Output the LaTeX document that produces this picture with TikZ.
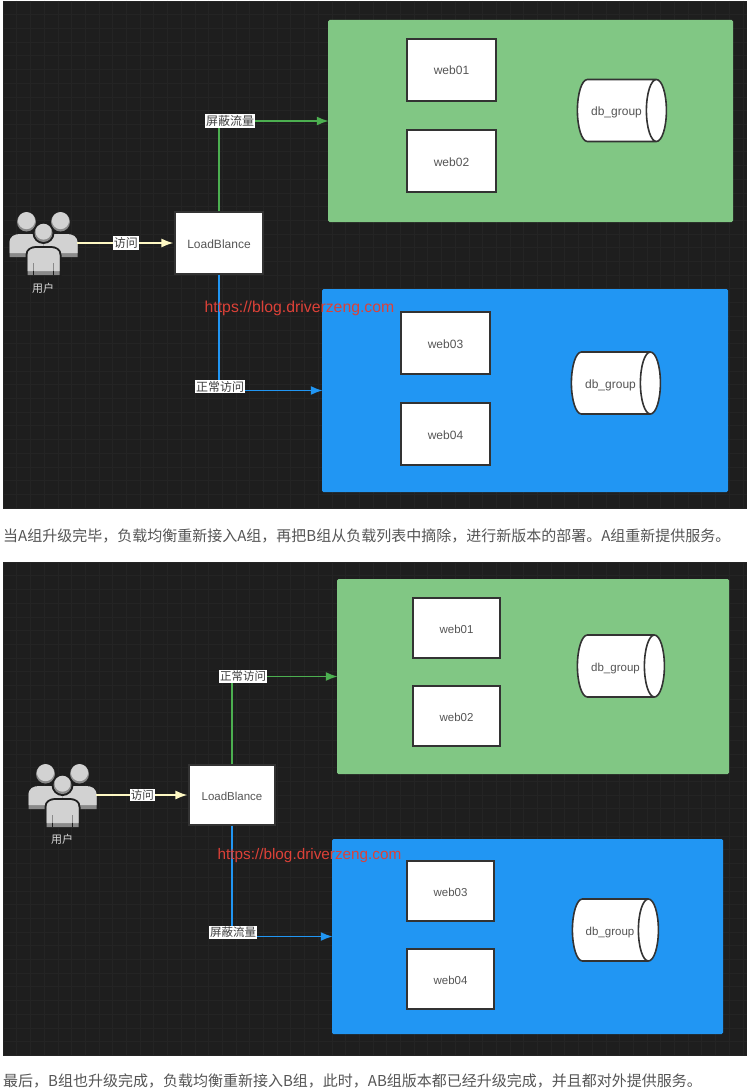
\documentclass[tikz,border=0pt]{standalone}
\usepackage{xcolor}
\usepackage{fontspec}
\setmainfont{Liberation Sans}
\newfontfamily\cjk{Noto Sans CJK SC}
\usetikzlibrary{arrows.meta,shapes.geometric}
\definecolor{panel}{HTML}{1E1E1E}
\definecolor{gridline}{HTML}{242424}
\definecolor{edge}{HTML}{333333}
\definecolor{ink}{HTML}{555555}
\definecolor{groupa}{HTML}{81C784}
\definecolor{groupb}{HTML}{2196F3}
\definecolor{linea}{HTML}{4CAF50}
\definecolor{lineu}{HTML}{FFF9C4}
\definecolor{wmred}{HTML}{DC4138}
\definecolor{figlight}{HTML}{D2D2D2}
\definecolor{figdark}{HTML}{8A8A8A}
\tikzset{
  box/.style={draw=edge, fill=white, line width=1.6pt, text=ink, font=\fontsize{12}{14}\selectfont, text height=10pt, text depth=0pt, inner sep=0pt},
  group/.style={draw=none, fill=#1, rounded corners=1.5pt, inner sep=0pt},
  db/.style={draw=edge, fill=white, line width=1.6pt, shape=cylinder, shape aspect=2, cylinder uses custom fill, cylinder body fill=white, cylinder end fill=white, text=ink, font=\fontsize{12}{14}\selectfont, text height=10pt, text depth=0pt, inner sep=0pt, minimum width=62pt},
  conn/.style={line width=1.8pt, shorten >=-1pt, -{Latex[length=12pt,width=9pt]}},
  tag/.style={fill=white, text=black!75, font=\cjk\fontsize{12}{14}\selectfont, inner sep=1pt},
  wm/.style={text=wmred, font=\fontsize{15.8}{18}\selectfont, inner sep=0pt},
  captext/.style={text=ink, font=\cjk\fontsize{15}{18}\selectfont, anchor=west, inner sep=0pt},
  usr/.style={minimum width=67pt, minimum height=65pt, inner sep=0pt},
  usrlab/.style={text=white!85!black, font=\cjk\fontsize{11}{13}\selectfont, inner sep=0pt},
  onefig/.pic={
    \fill[figdark] (0,0) circle (9.5);
    \fill[figlight] (0,-1.4) circle (8.6);
    \fill[figdark] (-17,35) -- (-17,22) .. controls (-17,15) and (-12,13) .. (-6,13) -- (6,13) .. controls (12,13) and (17,15) .. (17,22) -- (17,35) -- cycle;
    \fill[figlight] (-17,31) -- (-17,21) .. controls (-17,14) and (-12,12) .. (-6,12) -- (6,12) .. controls (12,12) and (17,14) .. (17,21) -- (17,31) -- cycle;
  },
  usrfig/.pic={
    \pic at (-17,-21) {onefig};
    \pic at (17,-21) {onefig};
    \fill[panel] (0,-10) circle (11);
    \fill[panel] (-18,33) -- (-18,12) .. controls (-18,6) and (-13,3) .. (-7,3) -- (7,3) .. controls (13,3) and (18,6) .. (18,12) -- (18,33) -- cycle;
    \fill[figdark] (0,-10) circle (9);
    \fill[figlight] (0,-11.3) circle (8);
    \fill[figdark] (-16,32) -- (-16,13) .. controls (-16,8) and (-12,6) .. (-7,6) -- (7,6) .. controls (12,6) and (16,8) .. (16,13) -- (16,32) -- cycle;
    \fill[figlight] (-16,28) -- (-16,12) .. controls (-16,7) and (-12,5) .. (-7,5) -- (7,5) .. controls (12,5) and (16,7) .. (16,12) -- (16,28) -- cycle;
    \draw[figdark, line width=0.8pt] (-10,20) -- (-10,28) (10,20) -- (10,28);
    \draw[panel, line width=0.7pt] (-10,28) -- (-10,32) (10,28) -- (10,32);
  },
}

\begin{document}
\begin{tikzpicture}[x=1pt,y=-1pt]
\useasboundingbox (0,0) rectangle (747,1089);
\fill[white] (0,0) rectangle (747,1089);
% dark panels with their grid
\foreach \ya/\yb in {1/509,562/1055} {
  \begin{scope}
    \clip (3,\ya) rectangle (747,\yb);
    \fill[panel] (3,\ya) rectangle (747,\yb);
    \foreach \i in {0,...,54} {
      \draw[gridline, line width=0.6pt] (3+13.7*\i,\ya) -- (3+13.7*\i,\yb);
    }
    \foreach \i in {0,...,37} {
      \draw[gridline, line width=0.6pt] (3,\ya+13.7*\i) -- (747,\ya+13.7*\i);
    }
  \end{scope}
}

% upper panel
\node[group=groupa, minimum width=405pt, minimum height=202pt] (grpa1) at (530.5,121) {};
\node[group=groupb, minimum width=406pt, minimum height=203pt] (grpb1) at (525,390.5) {};
\node[box, minimum width=88.5pt, minimum height=61.5pt] (web01a) at (451.5,70) {web01};
\node[box, minimum width=88.5pt, minimum height=61.5pt] (web02a) at (451.5,161) {web02};
\node[box, minimum width=88.5pt, minimum height=61.5pt] (web03a) at (445.5,343) {web03};
\node[box, minimum width=88.5pt, minimum height=61.5pt] (web04a) at (445.5,434) {web04};
\node[db, minimum height=89pt] (dba1) at (616.5,110.5) {db\_group};
\node[db, minimum height=89pt] (dbb1) at (610.5,383) {db\_group};
\node[box, minimum width=87.5pt, minimum height=61.5pt] (lb1) at (219,243) {LoadBlance};
\node[usr] (user1) at (43.5,243) {};
\pic at (43.5,243) {usrfig};
\node[usrlab] (userlab1) at (43,288) {用户};
\draw[conn, lineu, shorten >=1pt] (user1) -- node[tag] (tagu1) {访问} (lb1);
\draw[conn, linea] (lb1.north) |- node[tag, xshift=11pt] (taga1) {屏蔽流量} (grpa1.west);
\draw[conn, groupb] (lb1.south) |- node[tag, xshift=1pt, yshift=4pt] (tagb1) {正常访问} (grpb1.west);

% lower panel
\begin{scope}[
  box/.append style={font=\fontsize{11.5}{14}\selectfont},
  db/.append style={font=\fontsize{11.5}{14}\selectfont},
  tag/.append style={font=\cjk\fontsize{11.5}{14}\selectfont},
  wm/.append style={font=\fontsize{15.3}{18}\selectfont},
]
\node[group=groupa, minimum width=392pt, minimum height=195pt] (grpa2) at (533,676.5) {};
\node[group=groupb, minimum width=391pt, minimum height=195pt] (grpb2) at (527.5,936.5) {};
\node[box, minimum width=86.5pt, minimum height=59.5pt] (web01b) at (456.5,628) {web01};
\node[box, minimum width=86.5pt, minimum height=59.5pt] (web02b) at (456.5,716) {web02};
\node[box, minimum width=86.5pt, minimum height=59.5pt] (web03b) at (450.5,891) {web03};
\node[box, minimum width=86.5pt, minimum height=59.5pt] (web04b) at (450.5,979) {web04};
\node[db, minimum height=87pt] (dba2) at (615.5,666) {db\_group};
\node[db, minimum height=86pt] (dbb2) at (610,930) {db\_group};
\node[box, minimum width=85.5pt, minimum height=59.5pt] (lb2) at (232,795) {LoadBlance};
\node[usr] (user2) at (62.5,795) {};
\pic at (62.5,795) {usrfig};
\node[usrlab] (userlab2) at (62,839) {用户};
\draw[conn, lineu, shorten >=1pt] (user2) -- node[tag] (tagu2) {访问} (lb2);
\draw[conn, linea] (lb2.north) |- node[tag, xshift=11pt] (taga2) {正常访问} (grpa2.west);
\draw[conn, groupb] (lb2.south) |- node[tag, xshift=1pt, yshift=4pt] (tagb2) {屏蔽流量} (grpb2.west);
\node[wm] (mark2) at (309.5,856) {https://blog.driverzeng.com};
\end{scope}

% watermark and captions
\node[wm] (mark1) at (299.5,308) {https://blog.driverzeng.com};
\node[captext] (cap1) at (3,536) {当A组升级完毕，负载均衡重新接入A组，再把B组从负载列表中摘除，进行新版本的部署。A组重新提供服务。};
\node[captext] (cap2) at (3,1081) {最后，B组也升级完成，负载均衡重新接入B组，此时，AB组版本都已经升级完成，并且都对外提供服务。};
\end{tikzpicture}
\end{document}
